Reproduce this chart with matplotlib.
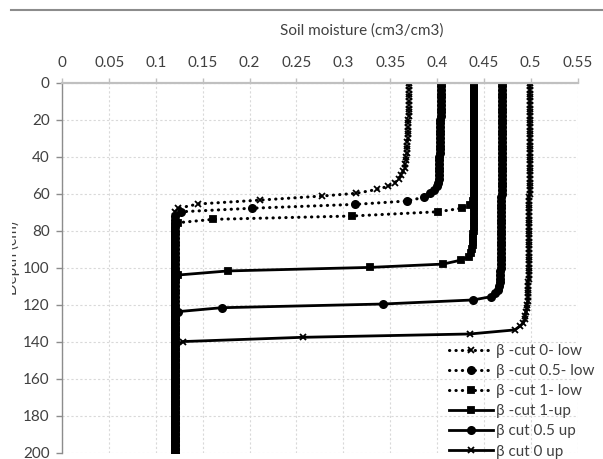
import matplotlib.pyplot as plt
from matplotlib.lines import Line2D
from matplotlib.transforms import Bbox

plt.rcParams['font.family'] = ['Lato', 'DejaVu Sans']

# depth grid for the upper (near-constant) part of every profile, cm
col_depth = [0, 2, 4, 6, 8, 10, 12, 14, 16, 18, 20, 22, 24, 26, 28, 30, 32, 34, 36, 38,
             40, 42, 44, 46, 48, 50, 52, 54, 56, 58, 60, 62, 64, 66, 68, 70, 72, 74, 76, 78,
             80, 82, 84, 86, 88, 90, 92, 94, 96, 98, 100, 102, 104, 106, 108, 110, 112, 114,
             116, 118, 120, 122, 124, 126, 128, 130]

# common dry lower part (all profiles end on it)
base_depth = [70, 72, 74, 76, 78, 80, 82, 84, 86, 88, 90, 92, 94, 96, 98, 100, 102, 104,
              106, 108, 110, 112, 114, 116, 118, 120, 122, 124, 126, 128, 130, 132, 134, 136,
              138, 140, 142, 144, 146, 148, 150, 152, 154, 156, 158, 160, 162, 164, 166, 168,
              170, 172, 174, 176, 178, 180, 182, 184, 186, 188, 190, 192, 194, 196, 198, 200]
base_moist = [0.12, 0.12, 0.12, 0.12, 0.12, 0.12, 0.12, 0.12, 0.12, 0.12, 0.12, 0.12,
              0.12, 0.12, 0.12, 0.12, 0.12, 0.12, 0.12, 0.12, 0.12, 0.12, 0.12, 0.12,
              0.12, 0.12, 0.12, 0.12, 0.12, 0.12, 0.12, 0.12, 0.12, 0.12, 0.12, 0.12,
              0.12, 0.12, 0.12, 0.12, 0.12, 0.12, 0.12, 0.12, 0.12, 0.12, 0.12, 0.12,
              0.12, 0.12, 0.12, 0.12, 0.12, 0.12, 0.12, 0.12, 0.12, 0.12, 0.12, 0.12,
              0.12, 0.12, 0.12, 0.12, 0.12, 0.12]

# beta-cut 0 low
m0low_col = [0.370, 0.370, 0.370, 0.370, 0.370, 0.370, 0.370, 0.370, 0.370, 0.370,
             0.369, 0.369, 0.369, 0.369, 0.369, 0.369, 0.368, 0.368, 0.368, 0.368,
             0.367, 0.367, 0.366, 0.366, 0.364, 0.362]
d0low_tr = [52, 54, 56, 57.7, 59.8, 61.3, 63.5, 65.6, 67.9]
m0low_tr = [0.359, 0.355, 0.348, 0.336, 0.314, 0.277, 0.211, 0.145, 0.124]

# beta-cut 0.5 low
m05low_col = [0.404, 0.404, 0.404, 0.404, 0.404, 0.404, 0.404, 0.404, 0.404, 0.404,
              0.403, 0.403, 0.403, 0.403, 0.403, 0.403, 0.403, 0.403, 0.403, 0.403,
              0.402, 0.402, 0.402, 0.402, 0.402, 0.402, 0.402, 0.401, 0.400, 0.397]
d05low_tr = [59.8, 62, 64, 65.8, 67.9, 69.8]
m05low_tr = [0.393, 0.386, 0.3675, 0.313, 0.202, 0.127]

# beta-cut 1 low
m1low_col = [0.440, 0.440, 0.440, 0.440, 0.440, 0.440, 0.440, 0.440, 0.440, 0.440,
             0.440, 0.440, 0.440, 0.440, 0.440, 0.440, 0.440, 0.440, 0.440, 0.440,
             0.440, 0.439, 0.439, 0.439, 0.439, 0.439, 0.439, 0.439, 0.439, 0.439,
             0.439, 0.439, 0.438, 0.435]
d1low_tr = [67.9, 69.8, 72.1, 73.9, 75.7]
m1low_tr = [0.4265, 0.401, 0.309, 0.161, 0.124]

# beta-cut 1 up
m1up_col = [0.440, 0.440, 0.440, 0.440, 0.440, 0.440, 0.440, 0.440, 0.440, 0.440,
            0.440, 0.440, 0.440, 0.440, 0.440, 0.440, 0.440, 0.440, 0.440, 0.440,
            0.440, 0.439, 0.439, 0.439, 0.439, 0.439, 0.439, 0.439, 0.439, 0.439,
            0.439, 0.439, 0.439, 0.439, 0.439, 0.439, 0.439, 0.439, 0.439, 0.439,
            0.439, 0.438, 0.438, 0.438, 0.438, 0.437, 0.436]
d1up_tr = [94, 95.9, 98.1, 99.9, 101.8, 104]
m1up_tr = [0.434, 0.426, 0.4066, 0.328, 0.177, 0.124]

# beta cut 0.5 up
m05up_col = [0.469, 0.469, 0.469, 0.469, 0.469, 0.469, 0.469, 0.469, 0.469, 0.469,
             0.469, 0.469, 0.469, 0.469, 0.469, 0.469, 0.469, 0.469, 0.469, 0.469,
             0.469, 0.469, 0.469, 0.469, 0.469, 0.469, 0.469, 0.469, 0.469, 0.469,
             0.469, 0.468, 0.468, 0.468, 0.468, 0.468, 0.468, 0.468, 0.468, 0.468,
             0.468, 0.468, 0.468, 0.468, 0.468, 0.468, 0.468, 0.468, 0.468, 0.468,
             0.468, 0.467, 0.467, 0.467, 0.467, 0.466, 0.465, 0.462]
d05up_tr = [115.7, 117.5, 119.7, 121.7, 123.8]
m05up_tr = [0.458, 0.4386, 0.342, 0.170, 0.124]

# beta cut 0 up
m0up_col = [0.499, 0.499, 0.499, 0.499, 0.499, 0.499, 0.499, 0.499, 0.499, 0.499,
            0.499, 0.499, 0.499, 0.499, 0.499, 0.499, 0.499, 0.499, 0.499, 0.499,
            0.499, 0.499, 0.499, 0.499, 0.499, 0.499, 0.499, 0.499, 0.499, 0.499,
            0.499, 0.498, 0.498, 0.498, 0.498, 0.498, 0.498, 0.498, 0.498, 0.498,
            0.498, 0.498, 0.498, 0.498, 0.498, 0.498, 0.498, 0.498, 0.498, 0.498,
            0.498, 0.498, 0.498, 0.498, 0.497, 0.497, 0.497, 0.497, 0.497, 0.497,
            0.496, 0.496, 0.495, 0.494, 0.494, 0.492]
d0up_tr = [131.5, 133.7, 135.9, 137.7, 140]
m0up_tr = [0.489, 0.483, 0.435, 0.2566, 0.129]

labels = ['β -cut 0- low', 'β -cut 0.5- low', 'β -cut 1- low',
          'β -cut 1-up', 'β cut 0.5 up', 'β cut 0 up']

# (column moisture, transition depth, transition moisture, first base index)
series = [(m0low_col, d0low_tr, m0low_tr, 0),
          (m05low_col, d05low_tr, m05low_tr, 1),
          (m1low_col, d1low_tr, m1low_tr, 4),
          (m1up_col, d1up_tr, m1up_tr, 18),
          (m05up_col, d05up_tr, m05up_tr, 28),
          (m0up_col, d0up_tr, m0up_tr, 36)]
markers = ['x', 'o', 's', 's', 'o', 'x']
msizes = [4.2, 5.2, 5.0, 5.0, 5.2, 4.2]
dotted = [True, True, True, False, False, False]

W, H = 603, 459
fig = plt.figure(figsize=(W / 100, H / 100), dpi=100)
ax = fig.add_axes([62.3 / W, 1 - 452.5 / H, (577.5 - 62.3) / W, (452.5 - 82.7) / H])

for (mcol, dtr, mtr, k), lab, mk, ms, dt in zip(series, labels, markers, msizes, dotted):
    depth = col_depth[:len(mcol)] + dtr + base_depth[k:]
    moist = mcol + mtr + base_moist[k:]
    if dt:
        ax.plot(moist, depth, color='black', lw=2.2, linestyle=(0, (0.1, 2.0)),
                dash_capstyle='round', marker=mk, ms=ms, mew=1.3, label=lab)
    else:
        ax.plot(moist, depth, color='black', lw=2.0, marker=mk, ms=ms, mew=1.3, label=lab)

ax.set_xlim(0, 0.55)
ax.set_ylim(200, 0)
ax.set_xticks([0, 0.05, 0.1, 0.15, 0.2, 0.25, 0.3, 0.35, 0.4, 0.45, 0.5, 0.55])
ax.set_xticklabels(['0', '0.05', '0.1', '0.15', '0.2', '0.25', '0.3', '0.35', '0.4',
                    '0.45', '0.5', '0.55'])
ax.set_yticks([0, 20, 40, 60, 80, 100, 120, 140, 160, 180, 200])
ax.xaxis.tick_top()
ax.tick_params(axis='x', direction='out', length=3.3, width=1, color='#bfbfbf',
               labelsize=11, labelcolor='#404040', pad=6)
ax.tick_params(axis='y', direction='out', length=4, width=1, color='#8c8c8c',
               labelsize=11, labelcolor='#404040', pad=5)
ax.grid(True, color='#d9d9d9', lw=0.8, linestyle=(0, (2, 2)))
ax.set_axisbelow(True)
for s in ['right', 'bottom']:
    ax.spines[s].set_visible(False)
ax.spines['top'].set_color('#c0c0c0')
ax.spines['top'].set_linewidth(1.6)
ax.spines['left'].set_color('#8c8c8c')
ax.spines['left'].set_linewidth(1.0)

fig.legend(loc='upper left', bbox_to_anchor=(449 / W, 1 - 344 / H), frameon=False,
           fontsize=11, handlelength=2.85, handletextpad=0.25, labelspacing=0.40,
           borderpad=0, borderaxespad=0, numpoints=1, labelcolor='#404040')

fig.text(361.7 / W, 1 - 31 / H, 'Soil moisture (cm3/cm3)', ha='center', va='center',
         fontsize=11, color='#404040')
yl = fig.text(12.5 / W, 1 - 258 / H, 'Depth (cm)', rotation=90, ha='center', va='center',
              fontsize=11, color='#404040')
yl.set_clip_box(Bbox.from_extents(11.7, 0, W, H))
yl.set_clip_on(True)

fig.add_artist(Line2D([11 / W, 1], [1 - 9.7 / H, 1 - 9.7 / H], color='#8c8c8c', lw=1.5))

fig.savefig('out.png', dpi=100)
